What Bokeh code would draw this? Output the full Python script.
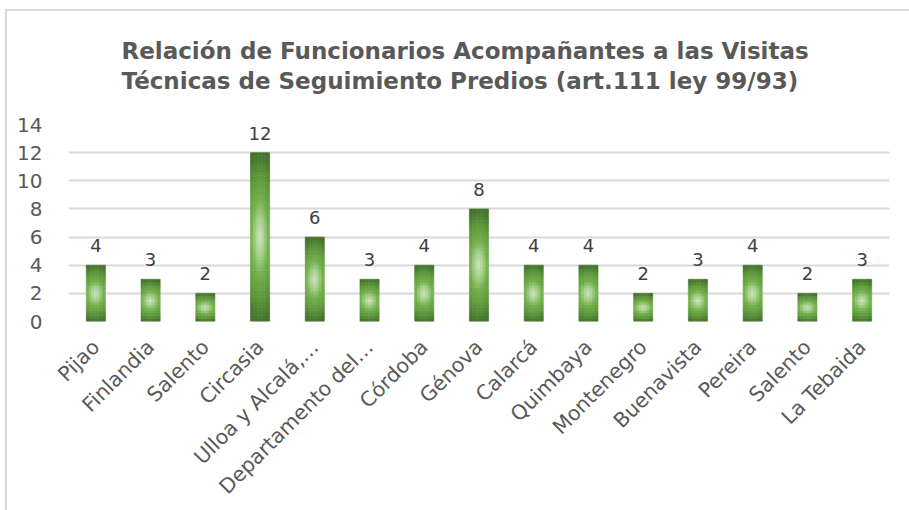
import math
from bokeh.plotting import figure
from bokeh.models import FixedTicker, ColumnDataSource
from bokeh.embed import file_html
from bokeh.resources import INLINE
from bokeh.core.properties import value

# ---- data ----
categories = ["Pijao", "Finlandia", "Salento", "Circasia", "Ulloa y Alcalá,…",
              "Departamento del…", "Córdoba", "Génova", "Calarcá", "Quimbaya",
              "Montenegro", "Buenavista", "Pereira", "Salento", "La Tebaida"]
counts = [4, 3, 2, 12, 6, 3, 4, 8, 4, 4, 2, 3, 4, 2, 3]
y_ticks = [0, 2, 4, 6, 8, 10, 12, 14]

title_lines = ["Relación de Funcionarios Acompañantes a las Visitas",
               "Técnicas de Seguimiento Predios (art.111 ley 99/93)"]

FONT = "DejaVu Sans"
TXT = "#595959"

# gradient stops (distance from bar centre -> colour)
stops = [(0.0, (0xcd, 0xe3, 0xbf)), (0.22, (0xa8, 0xd0, 0x8e)), (0.45, (0x72, 0xb0, 0x4a)),
         (0.72, (0x5e, 0x9a, 0x3c)), (1.0, (0x46, 0x73, 0x2e)), (2.0, (0x40, 0x6a, 0x29))]


def grad(d):
    for (d0, c0), (d1, c1) in zip(stops[:-1], stops[1:]):
        if d <= d1:
            t = (d - d0) / (d1 - d0)
            return "#%02x%02x%02x" % tuple(int(round(a + (b - a) * t)) for a, b in zip(c0, c1))
    return "#%02x%02x%02x" % stops[-1][1]


W = 0.35
xs, ys, ws, hs, cs = [], [], [], [], []
nx = 7
for i, v in enumerate(counts):
    ny = max(8, int(round(v * 5)))
    for c in range(nx):
        fu = (c + 0.5) / nx
        u = (fu - 0.5) * 2
        for r in range(ny):
            fv = (r + 0.5) / ny
            vv = (fv - 0.5) * 2
            d = math.sqrt((0.5 * u) ** 2 + vv ** 2)
            xs.append(i - W / 2 + fu * W)
            ys.append(fv * v)
            ws.append(W / nx)
            hs.append(v / ny)
            cs.append(grad(d))

cells = ColumnDataSource(dict(x=xs, y=ys, w=ws, h=hs, c=cs))
labels = ColumnDataSource(dict(x=list(range(len(counts))), y=counts,
                               t=[str(v) for v in counts]))

p = figure(width=909, height=510, output_backend="svg", toolbar_location=None,
           x_range=(-0.5, len(counts) - 0.5), y_range=(0, 14),
           min_border_left=68, min_border_right=20, min_border_top=124,
           min_border_bottom=189)
p.outline_line_color = None
p.background_fill_color = "white"
p.border_fill_color = None
# chart-area border (top and left edges) drawn behind the transparent canvas
p.styles = {"background-color": "white",
            "box-shadow": "inset 0 9px 0 0 #ffffff, inset 5px 0 0 0 #ffffff, "
                          "inset 0 11px 0 0 #d9d9d9, inset 7px 0 0 0 #d9d9d9"}

p.title.text = "\n".join(title_lines)
p.title.align = "left"
p.title.offset = 53
p.title.standoff = 60
p.title.text_font = FONT
p.title.text_font_size = "23px"
p.title.text_font_style = "bold"
p.title.text_color = TXT
p.title.text_line_height = 1.17

p.rect(x="x", y="y", width="w", height="h", source=cells, fill_color="c",
       line_color="c", line_width=0.6)

p.text(x="x", y="y", text="t", source=labels, text_align="center",
       text_baseline="bottom", y_offset=-13, text_font=value(FONT),
       text_font_size="18px", text_color="#404040")

p.ygrid.grid_line_color = "#d9d9d9"
p.ygrid.grid_line_width = 2
p.xgrid.grid_line_color = None

p.yaxis.ticker = FixedTicker(ticks=y_ticks)
p.xaxis.ticker = FixedTicker(ticks=list(range(len(categories))))
p.xaxis.major_label_overrides = {i: c for i, c in enumerate(categories)}
p.xaxis.major_label_orientation = math.pi / 4

for ax in (p.xaxis, p.yaxis):
    ax.axis_line_color = None
    ax.major_tick_line_color = None
    ax.minor_tick_line_color = None
    ax.major_label_text_font = FONT
    ax.major_label_text_font_size = "20px"
    ax.major_label_text_color = TXT
p.xaxis.major_label_text_font_size = "20.5px"
p.yaxis.major_label_standoff = 20
p.xaxis.major_label_standoff = 16

open("out.html", "w").write(file_html(p, INLINE))
